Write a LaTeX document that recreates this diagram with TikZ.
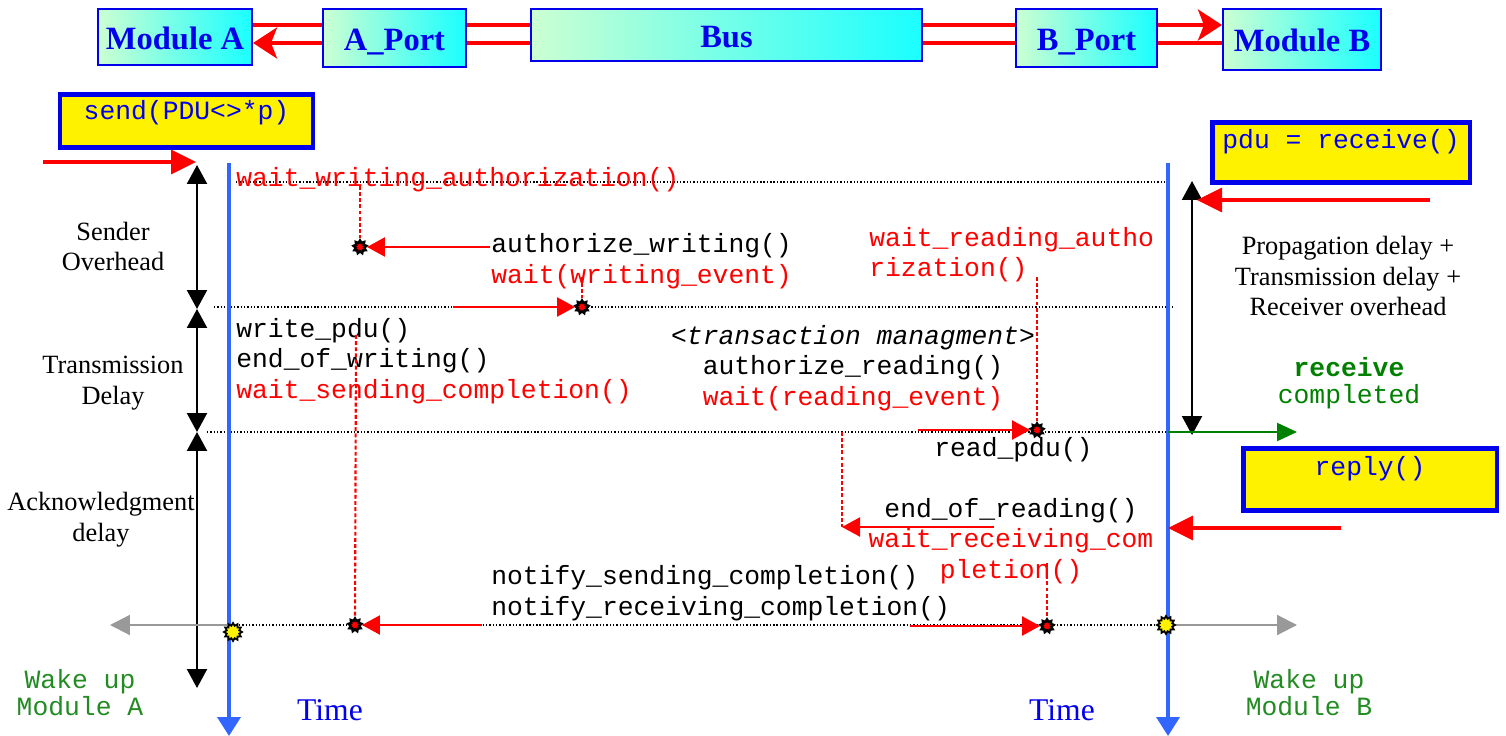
\documentclass[tikz,border=0pt]{standalone}
\usepackage{fontspec}
\setmainfont{Liberation Serif}
\setmonofont{Liberation Mono}
\usetikzlibrary{arrows.meta, shapes.geometric}

\definecolor{modblue}{RGB}{0,0,235}
\definecolor{timeblue}{RGB}{51,102,255}
\definecolor{mint}{RGB}{204,255,210}
\definecolor{aqua}{RGB}{26,255,255}
\definecolor{wakegreen}{RGB}{34,139,34}
\definecolor{okgreen}{RGB}{0,128,0}

\tikzset{
    module/.style={draw=modblue, line width=1.2pt, left color=mint, right color=aqua, text=modblue, font=\bfseries\fontsize{18.5}{20}\selectfont, inner sep=0pt, text height=0.5cm, text depth=0pt},
    callbox/.style={draw=modblue, line width=2.8pt, fill=yellow, text=modblue, font=\ttfamily\fontsize{15}{17}\selectfont, inner sep=0pt},
    mono/.style={font=\ttfamily\fontsize{15}{17.3}\selectfont, inner sep=0pt},
    note/.style={font=\fontsize{15}{17.6}\selectfont, align=center, inner sep=0pt},
    wake/.style={font=\ttfamily\fontsize{15}{15.5}\selectfont, text=wakegreen, align=center, inner sep=0pt},
    timelabel/.style={font=\fontsize{18}{20}\selectfont, text=modblue, inner sep=0pt},
    bus/.style={red, line width=2.2pt},
    busarrow/.style={bus, arrows={-Stealth[length=0.48cm, width=0.62cm, inset=0.12cm]}},
    callarrow/.style={red, line width=1.8pt, arrows={-Triangle[length=0.5cm, width=0.48cm]}},
    msg/.style={red, line width=1.3pt, arrows={-Triangle[length=0.36cm, width=0.38cm]}},
    spanarrow/.style={line width=1.3pt, arrows={Triangle[length=0.38cm, width=0.4cm]-Triangle[length=0.38cm, width=0.4cm]}},
    timeline/.style={draw=timeblue, line width=2.1pt, arrows={-Triangle[length=0.38cm, width=0.46cm]}},
    wakearrow/.style={gray!80, line width=1.2pt, arrows={-Triangle[length=0.4cm, width=0.4cm]}},
    donearrow/.style={okgreen, line width=1.2pt, arrows={-Triangle[length=0.4cm, width=0.36cm]}},
    dotline/.style={dash pattern=on 0.8pt off 1.1pt, line width=0.9pt},
    waitline/.style={red, dash pattern=on 2.2pt off 1.3pt, line width=1.2pt},
    hit/.style={star, star points=9, star point ratio=1.5, draw=black, fill=red, line width=1.4pt, minimum size=0.26cm, inner sep=0pt},
    sun/.style={star, star points=12, star point ratio=1.4, draw=black, fill=yellow, line width=1pt, minimum size=0.36cm, inner sep=0pt},
}

\begin{document}
\begin{tikzpicture}[x=0.02cm, y=-0.02cm]
\useasboundingbox (0,0) rectangle (1506,736);

% Moduli e bus
\coordinate (lineup) at (0,25);
\coordinate (linedn) at (0,43);
\node[module, minimum width=3.08cm, minimum height=1.12cm] (moda) at (175,37) {Module A};
\node[module, minimum width=2.86cm, minimum height=1.16cm] (aport) at (394.5,38) {A\_Port};
\node[module, minimum width=7.82cm, minimum height=1.04cm] (bus) at (726.5,35) {Bus};
\node[module, minimum width=2.82cm, minimum height=1.16cm] (bport) at (1086.5,38) {B\_Port};
\node[module, minimum width=3.16cm, minimum height=1.22cm] (modb) at (1302,39.5) {Module B};

\draw[bus] (aport.west |- lineup) -- (moda.east |- lineup);
\draw[busarrow] (aport.west |- linedn) -- (moda.east |- linedn);
\draw[bus] (bus.west |- lineup) -- (aport.east |- lineup);
\draw[bus] (bus.west |- linedn) -- (aport.east |- linedn);
\draw[bus] (bus.east |- lineup) -- (bport.west |- lineup);
\draw[bus] (bus.east |- linedn) -- (bport.west |- linedn);
\draw[busarrow] (bport.east |- lineup) -- (modb.west |- lineup);
\draw[bus] (bport.east |- linedn) -- (modb.west |- linedn);

% Primitive
\node[callbox, minimum width=5.06cm, text height=14.7pt, text depth=15.9pt] (send) at (186.5,121) {send(PDU<>*p)};
\node[callbox, minimum width=5.16cm, text height=14.7pt, text depth=19.8pt] (recv) at (1341,152.5) {pdu = receive()};
\node[callbox, minimum width=5.08cm, text height=15.3pt, text depth=20.4pt] (reply) at (1370,479.5) {reply()};

% Istanti
\coordinate (t1a) at (236,182); \coordinate (t1b) at (1168,182);
\coordinate (t2a) at (214,307); \coordinate (t2b) at (1175,307);
\coordinate (t3a) at (207,432); \coordinate (t3b) at (1168,432);
\coordinate (t4a) at (229,625); \coordinate (t4b) at (1168,625);
\draw[dotline] (t1a) -- (t1b);
\draw[dotline] (t2a) -- (t2b);
\draw[dotline] (t3a) -- (t3b);
\draw[dotline] (t4a) -- (t4b);

% Testo lato A
\node[mono, text=red, anchor=west] (wwa) at (236,180) {wait\_writing\_authorization()};
\node[mono, anchor=west, align=left] (aw) at (491,261) {authorize\_writing()\\\textcolor{red}{wait(writing\_event)}};
\node[mono, anchor=west, align=left] (wpdu) at (236,361) {write\_pdu()\\end\_of\_writing()\\\textcolor{red}{wait\_sending\_completion()}};
\node[mono, anchor=west, align=left] (notify) at (491,593) {notify\_sending\_completion()\\notify\_receiving\_completion()};

% Testo lato B
\node[mono, text=red, anchor=west, align=left] (wra) at (869,254.5) {wait\_reading\_autho\\rization()};
\node[mono, align=center] (tm) at (853,368) {\textit{<transaction managment>}\\authorize\_reading()\\\textcolor{red}{wait(reading\_event)}};
\node[mono, anchor=west] (rpdu) at (934,450) {read\_pdu()};
\node[mono, align=center] (eor) at (1011,541) {end\_of\_reading()\\\textcolor{red}{wait\_receiving\_com}\\\textcolor{red}{pletion()}};

% Ritardi
\node[note] (sender) at (113,246.5) {Sender\\Overhead};
\node[note] (trans) at (113,383.5) {Transmission\\Delay};
\node[note] (ack) at (101,520) {Acknowledgment\\delay};
\node[note] (prop) at (1348,276) {Propagation delay +\\Transmission delay +\\Receiver overhead};
\node[wake, text=okgreen] (done) at (1349,383.5) {\textbf{receive}\\completed};
\node[wake] (wakea) at (80,692.5) {Wake up\\Module A};
\node[wake] (wakeb) at (1309,692.5) {Wake up\\Module B};
\node[timelabel] (timea) at (330,710) {Time};
\node[timelabel] (timeb) at (1062,710) {Time};

% Linee del tempo
\coordinate (la0) at (229,163); \coordinate (la1) at (229,736);
\coordinate (lb0) at (1168,163); \coordinate (lb1) at (1168,736);
\draw[timeline] (la0) -- (la1);
\draw[timeline] (lb0) -- (lb1);

\coordinate (sa0) at (197,165); \coordinate (sa1) at (197,309);
\coordinate (sa2) at (197,432); \coordinate (sa3) at (197,688);
\coordinate (sb0) at (1192,181); \coordinate (sb1) at (1192,435);
\draw[spanarrow] (sa0) -- (sa1);
\draw[spanarrow] (sa1) -- (sa2);
\draw[spanarrow] (sa2) -- (sa3);
\draw[spanarrow] (sb0) -- (sb1);

% Chiamate
\coordinate (sendin) at (43,162); \coordinate (sendtip) at (196,162);
\coordinate (recvin) at (1430,200); \coordinate (recvtip) at (1197,200);
\coordinate (replyin) at (1341,528); \coordinate (replytip) at (1168,528);
\draw[callarrow] (sendin) -- (sendtip);
\draw[callarrow] (recvin) -- (recvtip);
\draw[callarrow] (replyin) -- (replytip);

% Eventi
\node[hit] (h1) at (360,247) {};
\node[hit] (h2) at (582,307) {};
\node[hit] (h3) at (1037,430) {};
\node[hit] (h4) at (355,625) {};
\node[hit] (h5) at (1047,626) {};

\coordinate (m1) at (490,247);
\coordinate (m2) at (453,307);
\coordinate (m3) at (918,430);
\coordinate (m4) at (994,527); \coordinate (m4tip) at (842,527);
\coordinate (m5) at (482,625);
\coordinate (m6) at (910,626);
\draw[msg] (m1) -- (h1);
\draw[msg] (m2) -- (h2);
\draw[msg] (m3) -- (h3);
\draw[msg] (m4) -- (m4tip);
\draw[msg] (m5) -- (h4);
\draw[msg] (m6) -- (h5);

\coordinate (v1) at (360,186);
\coordinate (v2) at (582,277);
\coordinate (v3) at (356,335);
\coordinate (v4) at (1037,277);
\coordinate (v5) at (842,432);
\coordinate (v6) at (1047,563);
\draw[waitline] (v1) -- (h1);
\draw[waitline] (v2) -- (h2);
\draw[waitline] (v3) -- (h4);
\draw[waitline] (v4) -- (h3);
\draw[waitline] (v5) -- (m4tip);
\draw[waitline] (v6) -- (h5);

% Risveglio
\coordinate (wa) at (110,625);
\coordinate (wb) at (1297,625);
\coordinate (doneb) at (1297,432);
\draw[wakearrow] (t4a) -- (wa);
\draw[wakearrow] (t4b) -- (wb);
\draw[donearrow] (t3b) -- (doneb);
\node[sun] (suna) at (233,632) {};
\node[sun] (sunb) at (1166,625) {};
\end{tikzpicture}
\end{document}
